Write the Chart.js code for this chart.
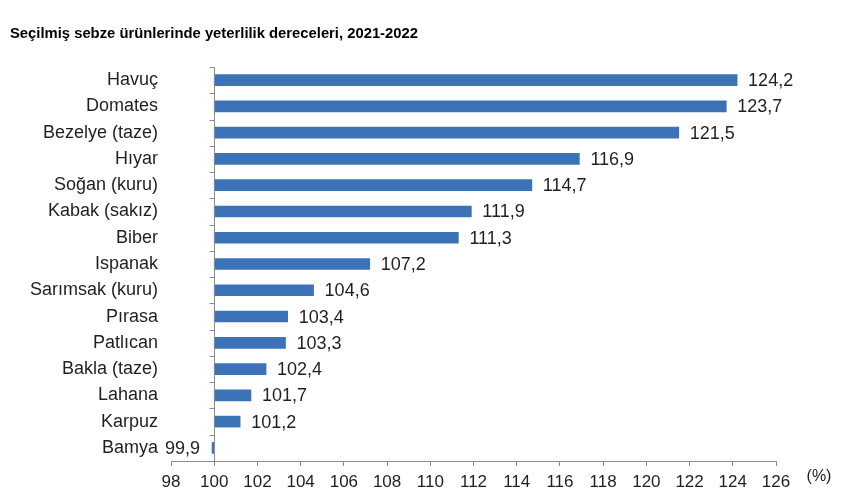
<!DOCTYPE html>
<html>
<head>
<meta charset="utf-8">
<script src="https://cdn.jsdelivr.net/npm/chart.js@4/dist/chart.umd.min.js"></script>
<style>
  html, body { margin: 0; padding: 0; background: #fff; }
  #wrap { width: 847px; height: 492px; }
</style>
</head>
<body>
<div id="wrap"><canvas id="chart"></canvas></div>
<script>
// data
var chartTitle = 'Seçilmiş sebze ürünlerinde yeterlilik dereceleri, 2021-2022';
var categories = ['Havuç', 'Domates', 'Bezelye (taze)', 'Hıyar', 'Soğan (kuru)', 'Kabak (sakız)', 'Biber',
                  'Ispanak', 'Sarımsak (kuru)', 'Pırasa', 'Patlıcan', 'Bakla (taze)', 'Lahana', 'Karpuz', 'Bamya'];
var values = [124.2, 123.7, 121.5, 116.9, 114.7, 111.9, 111.3, 107.2, 104.6, 103.4, 103.3, 102.4, 101.7, 101.2, 99.9];
var baseValue = 100;
var xTicks = [98, 100, 102, 104, 106, 108, 110, 112, 114, 116, 118, 120, 122, 124, 126];
var unitLabel = '(%)';

var axisColor = '#8c8c8c';
var textColor = '#1f1f1f';
var fontFam = '"Liberation Sans", Arial, sans-serif';

// bars float from the base value (100) to each value
var barData = values.map(function (v) { return [baseValue, v]; });

var extras = {
  id: 'extras',
  afterDraw: function (chart) {
    var ctx = chart.ctx;
    var xs = chart.scales.x, ys = chart.scales.y;
    var area = chart.chartArea;
    ctx.save();

    // title
    ctx.fillStyle = '#000';
    ctx.font = 'bold 14.8px ' + fontFam;
    ctx.textAlign = 'left';
    ctx.textBaseline = 'alphabetic';
    ctx.fillText(chartTitle, 10, 38);

    // vertical axis at the base value with category ticks
    var x0 = Math.round(xs.getPixelForValue(baseValue)) + 0.5;
    ctx.strokeStyle = axisColor;
    ctx.lineWidth = 1;
    ctx.beginPath();
    ctx.moveTo(x0, area.top);
    ctx.lineTo(x0, area.bottom);
    for (var i = 0; i <= categories.length; i++) {
      var y;
      if (i === 0) y = area.top;
      else if (i === categories.length) y = area.bottom;
      else y = (ys.getPixelForValue(i - 1) + ys.getPixelForValue(i)) / 2;
      y = Math.round(y) + 0.5;
      ctx.moveTo(x0 - 5, y);
      ctx.lineTo(x0, y);
    }
    ctx.stroke();

    // value labels
    ctx.fillStyle = textColor;
    ctx.font = '18px ' + fontFam;
    ctx.textBaseline = 'middle';
    var meta = chart.getDatasetMeta(0);
    meta.data.forEach(function (bar, i) {
      var v = values[i];
      var txt = v.toFixed(1).replace('.', ',');
      var xe = xs.getPixelForValue(v);
      if (v >= baseValue) {
        ctx.textAlign = 'left';
        ctx.fillText(txt, xe + 11, bar.y + 1);
      } else {
        ctx.textAlign = 'right';
        ctx.fillText(txt, xe - 12, bar.y + 1);
      }
    });

    // unit label
    ctx.font = '16px ' + fontFam;
    ctx.textAlign = 'center';
    ctx.fillText(unitLabel, 819, 477);
    ctx.restore();
  }
};

new Chart(document.getElementById('chart'), {
  type: 'bar',
  data: {
    labels: categories,
    datasets: [{
      data: barData,
      backgroundColor: '#3c73b8',
      borderWidth: 0,
      barThickness: 11,
      borderSkipped: false
    }]
  },
  options: {
    indexAxis: 'y',
    responsive: true,
    maintainAspectRatio: false,
    animation: false,
    layout: { padding: { top: 67, right: 71, bottom: 0, left: 0 } },
    plugins: {
      legend: { display: false },
      tooltip: { enabled: false }
    },
    scales: {
      x: {
        type: 'linear',
        min: xTicks[0],
        max: xTicks[xTicks.length - 1],
        afterBuildTicks: function (scale) {
          scale.ticks = xTicks.map(function (v) { return { value: v }; });
        },
        afterFit: function (scale) { scale.height = 31; },
        border: { display: true, color: axisColor, width: 1 },
        grid: { drawOnChartArea: false, drawTicks: true, tickLength: 5, color: axisColor },
        ticks: {
          color: textColor,
          font: { family: fontFam, size: 17 },
          padding: 6,
          maxRotation: 0,
          autoSkip: false
        }
      },
      y: {
        afterFit: function (scale) { scale.width = 171; },
        border: { display: false },
        grid: { display: false, drawTicks: false },
        ticks: {
          color: textColor,
          font: { family: fontFam, size: 18 },
          padding: 13,
          autoSkip: false
        }
      }
    }
  },
  plugins: [extras]
});
</script>
</body>
</html>
